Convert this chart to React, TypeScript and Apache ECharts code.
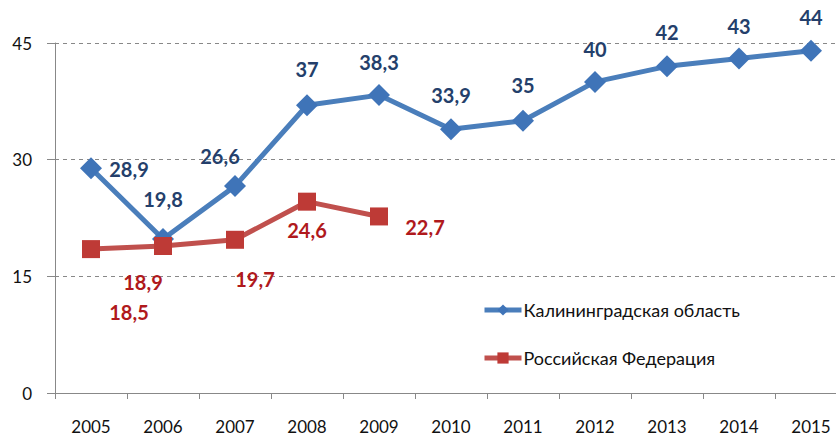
import React, { useEffect, useRef } from "react";
import * as echarts from "echarts";

const years = ["2005", "2006", "2007", "2008", "2009", "2010", "2011", "2012", "2013", "2014", "2015"];
const kaliningrad = [28.9, 19.8, 26.6, 37, 38.3, 33.9, 35, 40, 42, 43, 44];
const russia = [18.5, 18.9, 19.7, 24.6, 22.7];
const yTicks = [0, 15, 30, 45];

const seriesNames = ["Калининградская область", "Российская Федерация"];

// label offsets [dx, dy] per point (style only)
const blueLabelOffsets: [number, number][] = [
  [38, 1], [0, -40], [-15, -30], [0, -36], [0, -33], [0, -34], [0, -36], [0, -33], [0, -34], [0, -33], [0, -34],
];
const redLabelOffsets: [number, number][] = [
  [38, 63], [-20, 36], [20, 39], [0, 28], [46, 11],
];

const fmt = (v: number) => String(v).replace(".", ",");

const CHART_W = 860;

export default function App() {
  const ref = useRef<HTMLDivElement>(null);
  useEffect(() => {
    if (!ref.current) return;
    const chart = echarts.init(ref.current, undefined, { renderer: "svg" });
    const font = "Lato, 'Open Sans', sans-serif";
    chart.setOption({
      animation: false,
      textStyle: { fontFamily: font },
      grid: { left: 55, top: 43, right: CHART_W - 55 - 792, height: 350, containLabel: false },
      legend: {
        orient: "vertical",
        left: 477,
        top: 296,
        itemGap: 30,
        itemWidth: 37,
        itemHeight: 14,
        lineStyle: { width: 5 },
        textStyle: { fontSize: 18, color: "#111", fontFamily: font, padding: [0, 0, 0, -3] },
        data: seriesNames,
      },
      xAxis: {
        type: "category",
        data: years,
        boundaryGap: true,
        axisLine: { lineStyle: { color: "#888", width: 1 } },
        axisTick: { show: true, length: 6, lineStyle: { color: "#888" } },
        axisLabel: { fontSize: 17, color: "#111", margin: 25, fontFamily: font },
      },
      yAxis: {
        type: "value",
        min: yTicks[0],
        max: yTicks[yTicks.length - 1],
        interval: 15,
        axisLine: { show: true, lineStyle: { color: "#888", width: 1 } },
        axisTick: { show: true, length: 8, lineStyle: { color: "#888" } },
        axisLabel: { fontSize: 17, color: "#111", margin: 23, fontFamily: font },
        splitLine: { show: true, lineStyle: { color: "#888", type: [4, 4], width: 1 } },
      },
      series: [
        {
          name: seriesNames[0],
          type: "line",
          data: kaliningrad.map((v, i) => ({
            value: v,
            label: { offset: blueLabelOffsets[i] },
          })),
          symbol: "diamond",
          symbolSize: 22,
          lineStyle: { color: "#4A7EBB", width: 5 },
          itemStyle: { color: "#3F74B8" },
          label: {
            show: true,
            position: "inside",
            formatter: (p: any) => fmt(p.value),
            fontSize: 20,
            fontWeight: "bold",
            color: "#243F6B",
            fontFamily: font,
          },
          z: 2,
        },
        {
          name: seriesNames[1],
          type: "line",
          data: russia.map((v, i) => ({
            value: v,
            label: { offset: redLabelOffsets[i] },
          })),
          symbol: "rect",
          symbolSize: 18,
          lineStyle: { color: "#C0504D", width: 5 },
          itemStyle: { color: "#BE3A36" },
          label: {
            show: true,
            position: "inside",
            formatter: (p: any) => fmt(p.value),
            fontSize: 20,
            fontWeight: "bold",
            color: "#B0191C",
            fontFamily: font,
          },
          z: 3,
        },
      ],
    });
    return () => chart.dispose();
  }, []);
  return (
    <div style={{ position: "fixed", left: 0, top: 0, width: 836, height: 436, overflow: "hidden", background: "#fff" }}>
      <div ref={ref} style={{ width: CHART_W, height: 436 }} />
    </div>
  );
}
